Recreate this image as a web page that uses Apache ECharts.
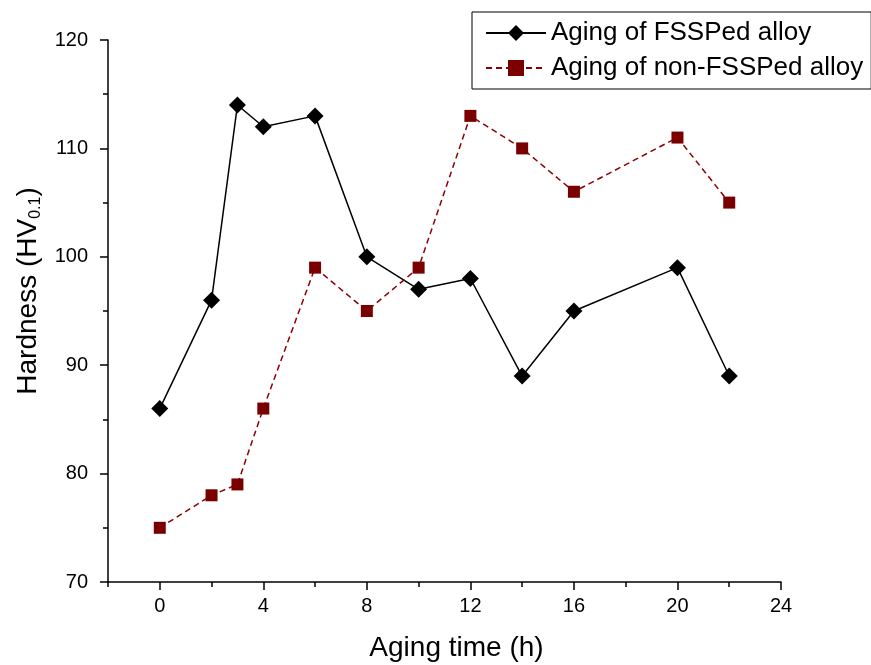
<!DOCTYPE html>
<html>
<head>
<meta charset="utf-8">
<script src="https://cdn.jsdelivr.net/npm/echarts@6/dist/echarts.min.js"></script>
<style>html,body{margin:0;padding:0;background:#fff}#c{width:871px;height:665px}</style>
</head>
<body>
<div id="c"></div>
<script>
var timesFSSP = [0, 2, 3, 4, 6, 8, 10, 12, 14, 16, 20, 22];
var hardnessFSSP = [86, 96, 114, 112, 113, 100, 97, 98, 89, 95, 99, 89];
var timesNon = [0, 2, 3, 4, 6, 8, 10, 12, 14, 16, 20, 22];
var hardnessNon = [75, 78, 79, 86, 99, 95, 99, 113, 110, 106, 111, 105];
var xMajorTicks = [0, 4, 8, 12, 16, 20, 24];
var xMinorTicks = [-2, 2, 6, 10, 14, 18, 22];
var seriesNames = ['Aging of FSSPed alloy', 'Aging of non-FSSPed alloy'];

function pairs(xs, ys) { return xs.map(function (x, i) { return [x, ys[i]]; }); }

var font = 'Liberation Sans, Arial, sans-serif';
var chart = echarts.init(document.getElementById('c'));
chart.setOption({
  animation: false,
  backgroundColor: '#fff',
  grid: { left: 108, right: 90, top: 40, bottom: 83, outerBoundsMode: 'none', containLabel: false },
  legend: {
    orient: 'vertical', left: 472, top: 12,
    borderColor: '#000', borderWidth: 1, padding: [8, 8, 8, 13],
    itemGap: 9, itemWidth: 60, itemHeight: 20,
    textStyle: { fontFamily: font, fontSize: 26, color: '#000' },
    data: seriesNames
  },
  xAxis: [{
    type: 'value', min: -2, max: 24,
    axisLine: { show: true, onZero: false, lineStyle: { color: '#000', width: 1.5 } },
    axisTick: { show: true, customValues: xMajorTicks, length: 8, lineStyle: { color: '#000', width: 1.5 } },
    axisLabel: { customValues: xMajorTicks, margin: 14, fontFamily: font, fontSize: 20, color: '#000' },
    splitLine: { show: false },
    name: 'Aging time (h)', nameLocation: 'middle', nameGap: 52,
    nameTextStyle: { fontFamily: font, fontSize: 28, color: '#000', padding: [0, 0, 0, 24] }
  }, {
    type: 'value', min: -2, max: 24, position: 'bottom',
    axisLine: { show: false },
    axisTick: { show: true, customValues: xMinorTicks, length: 5, lineStyle: { color: '#000', width: 1.5 } },
    axisLabel: { show: false },
    splitLine: { show: false }
  }],
  yAxis: {
    type: 'value', min: 70, max: 120, interval: 10,
    axisLine: { show: true, onZero: false, lineStyle: { color: '#000', width: 1.5 } },
    axisTick: { show: true, length: 8, lineStyle: { color: '#000', width: 1.5 } },
    minorTick: { show: true, splitNumber: 2, length: 5, lineStyle: { color: '#000', width: 1.5 } },
    axisLabel: { margin: 20, fontFamily: font, fontSize: 20, color: '#000' },
    splitLine: { show: false },
    name: '{a|Hardness (HV}{s|0.1}{a|)}', nameLocation: 'middle', nameGap: 62,
    nameTextStyle: {
      fontFamily: font, fontSize: 28, color: '#000', padding: [0, 0, 0, 40],
      rich: {
        a: { fontFamily: font, fontSize: 28, color: '#000' },
        s: { fontFamily: font, fontSize: 16, color: '#000', verticalAlign: 'bottom', padding: [14, 0, 0, 0] }
      }
    }
  },
  series: [{
    name: seriesNames[0], type: 'line', xAxisIndex: 0,
    data: pairs(timesFSSP, hardnessFSSP),
    symbol: 'diamond', symbolSize: 17,
    lineStyle: { color: '#000', width: 1.5 },
    itemStyle: { color: '#000' }
  }, {
    name: seriesNames[1], type: 'line', xAxisIndex: 0,
    data: pairs(timesNon, hardnessNon),
    symbol: 'rect', symbolSize: 12,
    lineStyle: { color: '#8b0000', width: 1.5, type: [6, 4] },
    itemStyle: { color: '#7a0000' }
  }]
});
</script>
</body>
</html>
